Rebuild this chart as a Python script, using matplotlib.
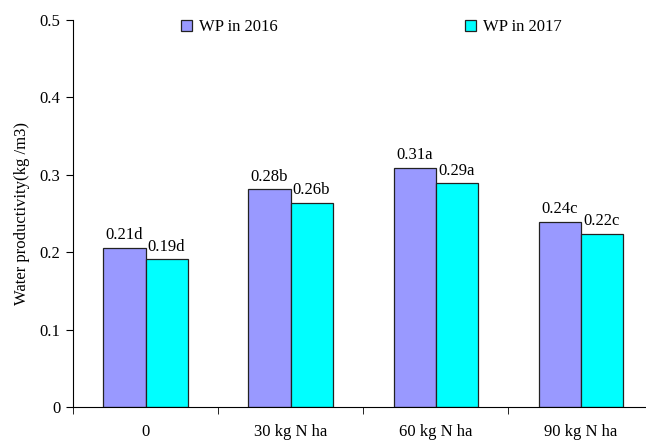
import matplotlib.pyplot as plt
import numpy as np

plt.rcParams['font.family'] = ['Liberation Serif', 'DejaVu Serif']

categories = ['0', '30 kg N ha', '60 kg N ha', '90 kg N ha']
wp2016 = [0.206, 0.281, 0.309, 0.239]
wp2017 = [0.191, 0.264, 0.289, 0.224]
labels2016 = ['0.21d', '0.28b', '0.31a', '0.24c']
labels2017 = ['0.19d', '0.26b', '0.29a', '0.22c']

fig = plt.figure(figsize=(6.46, 4.42), dpi=100)
ax = fig.add_axes([0.113, 0.079, 0.898, 0.876])

x = np.arange(len(categories))
w = 0.29
ax.bar(x - w/2, wp2016, w, color='#9999FF', edgecolor='#222222', linewidth=0.9, label='WP in 2016')
ax.bar(x + w/2, wp2017, w, color='#00FFFF', edgecolor='#222222', linewidth=0.9, label='WP in 2017')

for xi, v, t in zip(x - w/2, wp2016, labels2016):
    ax.text(xi, v + 0.006, t, ha='center', va='bottom', fontsize=12)
for xi, v, t in zip(x + w/2, wp2017, labels2017):
    ax.text(xi, v + 0.006, t, ha='center', va='bottom', fontsize=12)

ax.set_xlim(-0.5, 3.5)
ax.set_ylim(0, 0.5)
ax.set_yticks([0, 0.1, 0.2, 0.3, 0.4, 0.5])
ax.set_yticklabels(['0', '0.1', '0.2', '0.3', '0.4', '0.5'], fontsize=12)
ax.set_xticks(x)
ax.set_xticklabels(categories, fontsize=12)
ax.tick_params(axis='x', length=0, pad=12)
ax.set_xticks(np.arange(-0.5, 3.6, 1), minor=True)
ax.tick_params(axis='x', which='minor', length=5, direction='out')
ax.tick_params(axis='y', length=5, direction='out', pad=4)
ax.spines['top'].set_visible(False)
ax.spines['right'].set_visible(False)
ax.set_ylabel('Water productivity(kg /m3)', fontsize=12, labelpad=7)

ax.legend(loc='upper left', bbox_to_anchor=(0.16, 1.04), ncol=2, frameon=False,
          fontsize=12, handlelength=0.7, handleheight=0.7, handletextpad=0.4,
          columnspacing=11.2)

fig.savefig('out.png', dpi=100)
